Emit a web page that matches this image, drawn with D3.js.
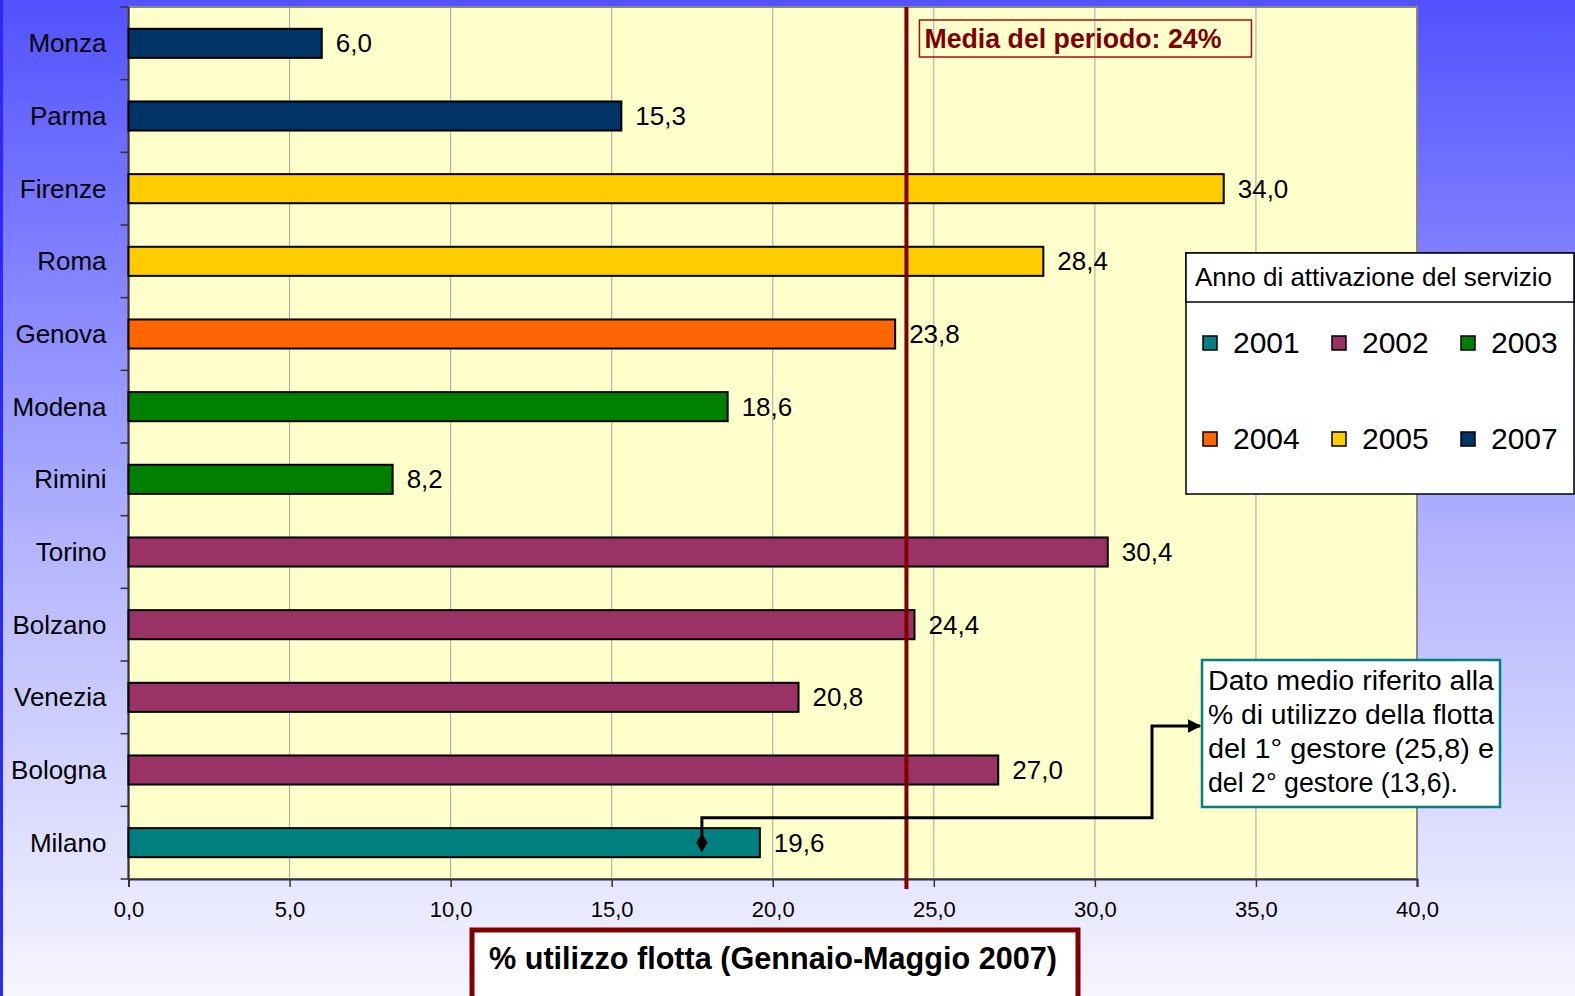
<!DOCTYPE html>
<html>
<head>
<meta charset="utf-8">
<script src="https://cdn.jsdelivr.net/npm/d3@7"></script>
<style>
  body { margin: 0; overflow: hidden; }
  text { font-family: "Liberation Sans", Arial, sans-serif; }
</style>
</head>
<body>
<div id="chart"></div>
<script>
// data
const cities = ["Monza", "Parma", "Firenze", "Roma", "Genova", "Modena", "Rimini",
  "Torino", "Bolzano", "Venezia", "Bologna", "Milano"]
const usage = [6.0, 15.3, 34.0, 28.4, 23.8, 18.6, 8.2, 30.4, 24.4, 20.8, 27.0, 19.6]
const startYear = ["2007", "2007", "2005", "2005", "2004", "2003", "2003",
  "2002", "2002", "2002", "2002", "2001"]
const years = ["2001", "2002", "2003", "2004", "2005", "2007"]
const yearColors = ["#008080", "#993366", "#008000", "#ff6600", "#ffcc00", "#003366"]
const xTicks = [0, 5, 10, 15, 20, 25, 30, 35, 40]
const meanValue = 24.15
const noteLines = ["Dato medio riferito alla", "% di utilizzo della flotta",
  "del 1° gestore (25,8) e", "del 2° gestore (13,6)."]
const notePoint = 17.8   // where the Milano note arrow starts

const W = 1575, H = 996
const MARGIN = { LEFT: 128.5, RIGHT: 158, TOP: 7, BOTTOM: 117 }
const plotW = W - MARGIN.LEFT - MARGIN.RIGHT
const plotH = H - MARGIN.TOP - MARGIN.BOTTOM

const svg = d3.select("#chart").append("svg")
  .attr("width", W)
  .attr("height", H)

const defs = svg.append("defs")
const grad = defs.append("linearGradient")
  .attr("id", "bg").attr("x1", 0).attr("y1", 0).attr("x2", 0).attr("y2", 1)
grad.append("stop").attr("offset", "0%").attr("stop-color", "#5252ff")
grad.append("stop").attr("offset", "55%").attr("stop-color", "#b4b4ff")
grad.append("stop").attr("offset", "100%").attr("stop-color", "#f6f6ff")

defs.append("marker")
  .attr("id", "arrow").attr("viewBox", "0 0 10 10")
  .attr("refX", 9).attr("refY", 5)
  .attr("markerWidth", 4.5).attr("markerHeight", 4.5)
  .attr("markerUnits", "strokeWidth")
  .attr("orient", "auto")
  .append("path").attr("d", "M0,0L10,5L0,10Z").attr("fill", "#000")

svg.append("rect").attr("width", W).attr("height", H).attr("fill", "url(#bg)")
svg.append("rect").attr("width", 3).attr("height", H).attr("fill", "#2a2aff")

const x = d3.scaleLinear().domain([0, 40]).range([0, plotW])
const y = d3.scaleBand().domain(cities).range([0, plotH])
  .paddingInner(0.6).paddingOuter(0.3)
const color = d3.scaleOrdinal().domain(years).range(yearColors)

const g = svg.append("g")
  .attr("transform", `translate(${MARGIN.LEFT},${MARGIN.TOP})`)

// plot area
g.append("rect")
  .attr("width", plotW).attr("height", plotH)
  .attr("fill", "#ffffcc")
  .attr("stroke", "#888").attr("stroke-width", 2)

// grid lines
g.selectAll(".grid").data(xTicks.slice(1, -1))
  .enter().append("line")
  .attr("x1", d => x(d)).attr("x2", d => x(d))
  .attr("y1", 0).attr("y2", plotH)
  .attr("stroke", "#a6a6a6").attr("stroke-width", 1)

// x axis
const xAxis = g.append("g")
  .attr("transform", `translate(0,${plotH})`)
  .call(d3.axisBottom(x).tickValues(xTicks).tickSize(8).tickPadding(14)
    .tickFormat(d => d.toFixed(1).replace(".", ",")))
xAxis.select(".domain").attr("stroke", "#333").attr("stroke-width", 2)
xAxis.selectAll(".tick line").attr("stroke", "#333").attr("stroke-width", 1.5)
xAxis.selectAll(".tick text")
  .attr("font-size", 22).attr("fill", "#000")
  .style("font-family", "'Liberation Sans', Arial, sans-serif")

// y axis: ticks on band boundaries
const step = y.step()
const bounds = d3.range(cities.length + 1).map(i => i * step)
g.selectAll(".ytick").data(bounds)
  .enter().append("line")
  .attr("x1", -8).attr("x2", 0)
  .attr("y1", d => d).attr("y2", d => d)
  .attr("stroke", "#333").attr("stroke-width", 1.5)
g.append("line")
  .attr("x1", 0).attr("x2", 0).attr("y1", 0).attr("y2", plotH)
  .attr("stroke", "#333").attr("stroke-width", 2)

g.selectAll(".cat").data(cities)
  .enter().append("text")
  .attr("x", -22)
  .attr("y", d => y(d) + y.bandwidth() / 2 + 9)
  .attr("text-anchor", "end")
  .attr("font-size", 26)
  .text(d => d)

// bars
g.selectAll(".bar").data(usage)
  .enter().append("rect")
  .attr("x", 0)
  .attr("y", (d, i) => y(cities[i]))
  .attr("width", d => x(d))
  .attr("height", y.bandwidth())
  .attr("fill", (d, i) => color(startYear[i]))
  .attr("stroke", "#000").attr("stroke-width", 2)

g.selectAll(".val").data(usage)
  .enter().append("text")
  .attr("x", d => x(d) + 14)
  .attr("y", (d, i) => y(cities[i]) + y.bandwidth() / 2 + 9)
  .attr("font-size", 26)
  .text(d => d.toFixed(1).replace(".", ","))

// mean line
g.append("line")
  .attr("x1", x(meanValue)).attr("x2", x(meanValue))
  .attr("y1", 0).attr("y2", plotH + 10)
  .attr("stroke", "#800000").attr("stroke-width", 4)

const mediaX = x(meanValue) + 13
g.append("rect")
  .attr("x", mediaX).attr("y", 13)
  .attr("width", 332).attr("height", 37)
  .attr("fill", "none").attr("stroke", "#a01010").attr("stroke-width", 1.5)
g.append("text")
  .attr("x", mediaX + 5).attr("y", 41)
  .attr("font-size", 28).attr("font-weight", "bold").attr("fill", "#800000")
  .attr("textLength", 297).attr("lengthAdjust", "spacingAndGlyphs")
  .text("Media del periodo: " + Math.round(meanValue) + "%")

// note connector for Milano
const milY = y("Milano") + y.bandwidth() / 2
const boxX = 1202 - MARGIN.LEFT, boxY = 660 - MARGIN.TOP
const boxW = 298, boxH = 147
const elbowX = boxX - 50
g.append("path")
  .attr("d", `M${x(notePoint)},${milY} V${milY - 25} H${elbowX} V${boxY + 66} H${boxX - 2}`)
  .attr("fill", "none").attr("stroke", "#000").attr("stroke-width", 3)
  .attr("marker-end", "url(#arrow)")
g.append("path")
  .attr("d", d3.symbol(d3.symbolDiamond, 110)())
  .attr("transform", `translate(${x(notePoint)},${milY})`)
  .attr("fill", "#000")

g.append("rect")
  .attr("x", boxX).attr("y", boxY).attr("width", boxW).attr("height", boxH)
  .attr("fill", "#fff").attr("stroke", "#008080").attr("stroke-width", 2.5)
g.selectAll(".note").data(noteLines)
  .enter().append("text")
  .attr("x", boxX + 6)
  .attr("y", (d, i) => boxY + 30 + i * 34)
  .attr("font-size", 27)
  .attr("textLength", (d, i) => i < noteLines.length - 1 ? boxW - 12 : 250)
  .attr("lengthAdjust", "spacingAndGlyphs")
  .text(d => d)

// legend
const leg = svg.append("g").attr("transform", "translate(1186,253)")
leg.append("rect").attr("width", 388).attr("height", 241)
  .attr("fill", "#fff").attr("stroke", "#000").attr("stroke-width", 1.5)
leg.append("rect").attr("width", 388).attr("height", 49)
  .attr("fill", "#fff").attr("stroke", "#000").attr("stroke-width", 1.5)
leg.append("text")
  .attr("x", 9).attr("y", 33)
  .attr("font-size", 26)
  .text("Anno di attivazione del servizio")

const item = leg.selectAll(".item").data(years)
  .enter().append("g")
  .attr("transform", (d, i) => `translate(${17 + (i % 3) * 129},${i < 3 ? 90 : 186})`)
item.append("rect")
  .attr("x", 0).attr("y", -7).attr("width", 14).attr("height", 14)
  .attr("fill", d => color(d)).attr("stroke", "#000").attr("stroke-width", 1.5)
item.append("text")
  .attr("x", 30).attr("y", 10)
  .attr("font-size", 30)
  .text(d => d)

// axis title
svg.append("rect")
  .attr("x", 472).attr("y", 930).attr("width", 606).attr("height", 80)
  .attr("fill", "#fff").attr("stroke", "#800000").attr("stroke-width", 5)
svg.append("text")
  .attr("x", 489).attr("y", 969)
  .attr("font-size", 32).attr("font-weight", "bold")
  .attr("textLength", 568).attr("lengthAdjust", "spacingAndGlyphs")
  .text("% utilizzo flotta (Gennaio-Maggio 2007)")
</script>
</body>
</html>
